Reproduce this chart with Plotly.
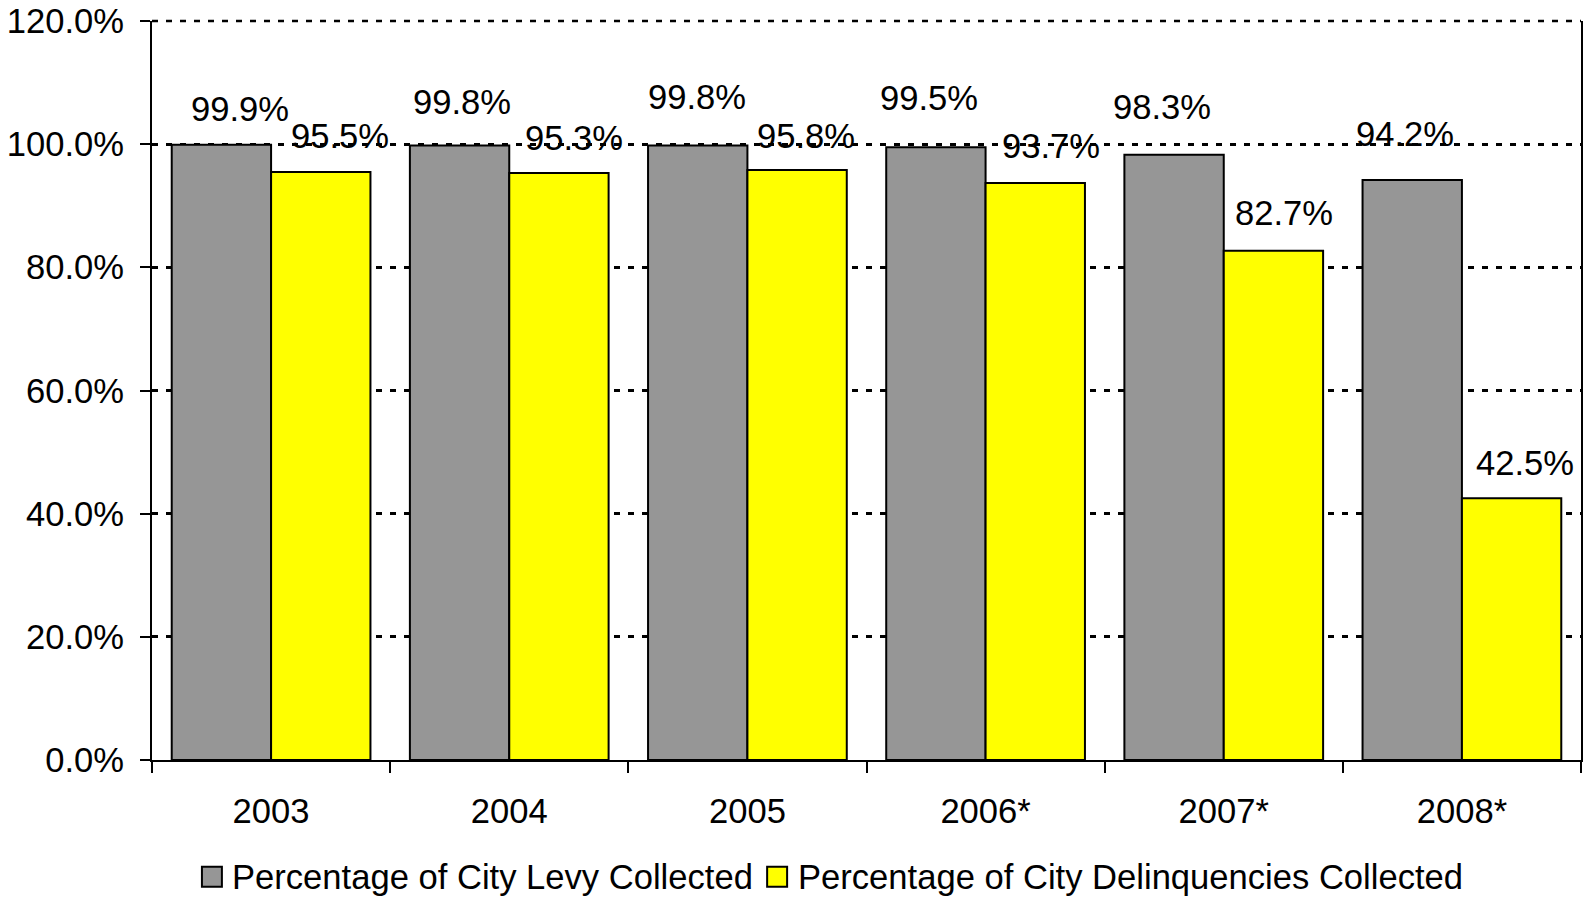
import plotly.graph_objects as go

# Collection rates by year
years = ["2003", "2004", "2005", "2006*", "2007*", "2008*"]
levy_pct = [99.9, 99.8, 99.8, 99.5, 98.3, 94.2]
delinq_pct = [95.5, 95.3, 95.8, 93.7, 82.7, 42.5]

series_names = ["Percentage of City Levy Collected",
                "Percentage of City Delinquencies Collected"]
y_ticks = [0, 20, 40, 60, 80, 100, 120]

# Hand-placed nudges for the value labels (pixels: right, up from bar top)
levy_label_dx = [19, 3, -1, -7, -12, -7]
levy_label_dy = [36, 43, 48, 49, 48, 46]
delinq_label_dx = [19, 15, 9, 16, 10, 13]
delinq_label_dy = [36, 35, 34, 37, 38, 35]

FONT = "Arial, Liberation Sans, sans-serif"
FS = 34.6
GRAY = "#969696"
YELLOW = "#FFFF00"

W, H = 1585, 897
ML, MR, MT, MB = 152, 2, 19, 137
plot_w = W - ML - MR
plot_h = H - MT - MB
BARGAP = 0.1656
cat_w = plot_w / len(years)
bar_w = cat_w * (1 - BARGAP) / 2

fig = go.Figure()
fig.add_trace(go.Bar(x=years, y=levy_pct, name=series_names[0],
                     marker=dict(color=GRAY, line=dict(color="black", width=2))))
fig.add_trace(go.Bar(x=years, y=delinq_pct, name=series_names[1],
                     marker=dict(color=YELLOW, line=dict(color="black", width=2))))

annotations = []
for i, yr in enumerate(years):
    annotations.append(dict(
        x=i, y=levy_pct[i], xref="x", yref="y", text=f"{levy_pct[i]:.1f}%",
        showarrow=False, xanchor="center", yanchor="middle",
        xshift=-bar_w / 2 + levy_label_dx[i], yshift=levy_label_dy[i],
        font=dict(family=FONT, size=FS, color="black")))
    annotations.append(dict(
        x=i, y=delinq_pct[i], xref="x", yref="y", text=f"{delinq_pct[i]:.1f}%",
        showarrow=False, xanchor="center", yanchor="middle",
        xshift=bar_w / 2 + delinq_label_dx[i], yshift=delinq_label_dy[i],
        font=dict(family=FONT, size=FS, color="black")))

# Legend drawn as swatches + labels below the axis
def px_to_paper_x(px):
    return (px - ML) / plot_w

def px_to_paper_y(py):
    return (H - MB - py) / plot_h

shapes = []
legend_items = [(202, GRAY, 230), (768, YELLOW, 797)]
for (sx, col, tx), name in zip(legend_items, series_names):
    shapes.append(dict(type="rect", xref="paper", yref="paper",
                       x0=px_to_paper_x(sx), x1=px_to_paper_x(sx + 20),
                       y0=px_to_paper_y(887), y1=px_to_paper_y(867),
                       fillcolor=col, line=dict(color="black", width=2)))
    annotations.append(dict(x=px_to_paper_x(tx), y=px_to_paper_y(877),
                            xref="paper", yref="paper", text=name,
                            showarrow=False, xanchor="left", yanchor="middle",
                            font=dict(family=FONT, size=FS, color="black")))

# Dotted gridline along the top edge of the plot (the 120% level)
shapes.append(dict(type="line", xref="paper", yref="paper", x0=0, x1=1,
                   y0=1, y1=1, layer="above",
                   line=dict(color="black", width=2.5, dash="6px,8px")))

fig.update_layout(
    width=W, height=H,
    margin=dict(l=ML, r=MR, t=MT, b=MB, pad=0),
    paper_bgcolor="white", plot_bgcolor="white",
    barmode="group", bargap=BARGAP, bargroupgap=0,
    showlegend=False,
    font=dict(family=FONT, size=FS, color="black"),
    annotations=annotations, shapes=shapes,
)
fig.update_xaxes(
    type="category", range=[-0.5, len(years) - 0.5], autorange=False,
    showline=True, linecolor="black", linewidth=2,
    ticks="outside", tickson="boundaries", ticklen=11, tickwidth=2,
    tickcolor="black", showgrid=False, ticklabelstandoff=19, tickangle=0,
    tickfont=dict(family=FONT, size=FS, color="black"),
)
fig.update_yaxes(
    range=[0, 120], autorange=False, tickvals=y_ticks,
    ticktext=[f"{v:.1f}%" for v in y_ticks],
    showline=True, linecolor="black", linewidth=2, mirror=True,
    ticks="outside", ticklen=10, tickwidth=2, tickcolor="black",
    showgrid=True, gridcolor="black", gridwidth=2.5, griddash="6px,8px",
    zeroline=False, ticklabelstandoff=9, ticklabeloverflow="allow",
    tickfont=dict(family=FONT, size=FS, color="black"),
)

fig.write_html("out.html")
